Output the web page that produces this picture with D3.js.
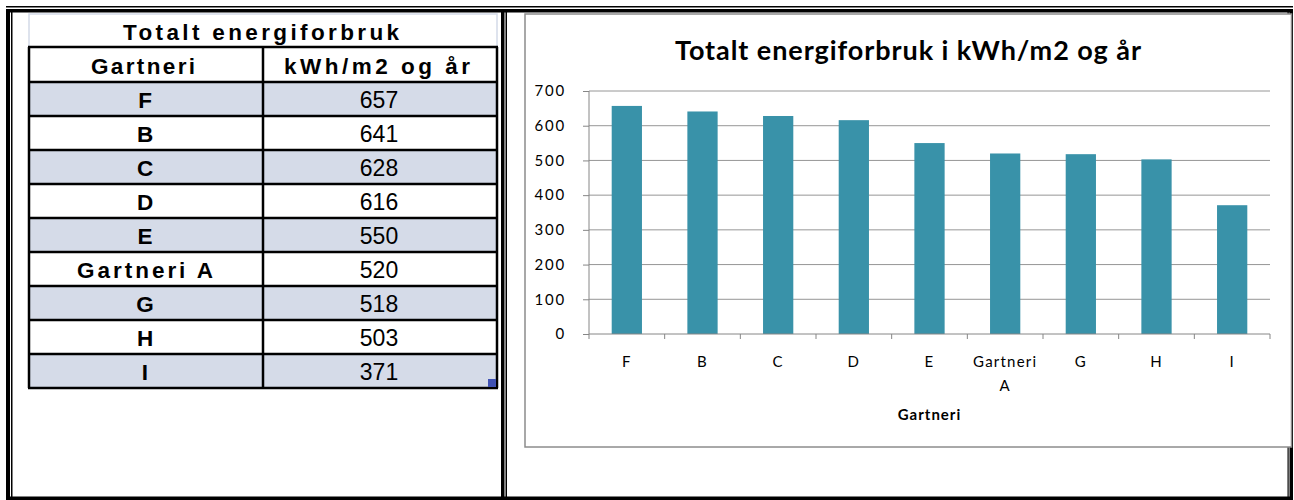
<!DOCTYPE html>
<html>
<head>
<meta charset="utf-8">
<script src="https://cdn.jsdelivr.net/npm/d3@7/dist/d3.min.js"></script>
<style>
  html, body { margin: 0; padding: 0; background: #fff; }
  svg { display: block; }
</style>
</head>
<body>
<svg id="chart" width="1294" height="500"></svg>
<script>
// ---------- data ----------
const tableTitle = "Totalt energiforbruk";
const colHeaders = ["Gartneri", "kWh/m2 og år"];
const categories = ["F", "B", "C", "D", "E", "Gartneri A", "G", "H", "I"];
const values = [657, 641, 628, 616, 550, 520, 518, 503, 371];
const yTicks = [0, 100, 200, 300, 400, 500, 600, 700];
const chartTitle = "Totalt energiforbruk i kWh/m2 og år";
const xAxisTitle = "Gartneri";

const svg = d3.select("#chart");

// ---------- outer double frame ----------
const frame = svg.append("g").attr("fill", "#000");
frame.append("rect").attr("x", 6).attr("y", 6).attr("width", 1287).attr("height", 1.5);
frame.append("rect").attr("x", 6).attr("y", 9).attr("width", 1287).attr("height", 3.5);
frame.append("rect").attr("x", 6).attr("y", 9).attr("width", 4).attr("height", 491);
frame.append("rect").attr("x", 11).attr("y", 12).attr("width", 1.5).attr("height", 488);
frame.append("rect").attr("x", 501).attr("y", 9).attr("width", 3.5).attr("height", 491);
frame.append("rect").attr("x", 505.5).attr("y", 12).attr("width", 1.5).attr("height", 488);
frame.append("rect").attr("x", 1287.5).attr("y", 12).attr("width", 1.2).attr("height", 488);
frame.append("rect").attr("x", 1289.5).attr("y", 9).attr("width", 3.5).attr("height", 491);
frame.append("rect").attr("x", 6).attr("y", 496.5).attr("width", 1287).attr("height", 3.5);

// ---------- table ----------
const tX0 = 29, tX1 = 263, tX2 = 497;
const titleTop = 14, headTop = 47, rowTop = 82, rowH = 34;
const tbl = svg.append("g").attr("font-family", "'Liberation Sans', Arial, sans-serif");

tbl.append("rect").attr("x", tX0).attr("y", titleTop).attr("width", tX2 - tX0).attr("height", headTop - titleTop)
  .attr("fill", "#fff").attr("stroke", "#d3dae8").attr("stroke-width", 1.5);

categories.forEach((c, i) => {
  tbl.append("rect").attr("x", tX0).attr("y", rowTop + i * rowH).attr("width", tX2 - tX0).attr("height", rowH)
    .attr("fill", i % 2 === 0 ? "#d5dbe8" : "#fff");
});

const tableBottom = rowTop + categories.length * rowH;
const hLines = [headTop, rowTop].concat(categories.map((c, i) => rowTop + (i + 1) * rowH));
hLines.forEach(y => {
  tbl.append("line").attr("x1", tX0 - 1).attr("x2", tX2 + 1).attr("y1", y).attr("y2", y)
    .attr("stroke", "#000").attr("stroke-width", 2.5);
});
[tX0, tX1, tX2].forEach(x => {
  tbl.append("line").attr("x1", x).attr("x2", x).attr("y1", headTop).attr("y2", tableBottom)
    .attr("stroke", "#000").attr("stroke-width", 2.5);
});
tbl.append("rect").attr("x", tX2 - 9).attr("y", tableBottom - 9).attr("width", 8).attr("height", 8).attr("fill", "#4052b4");

tbl.append("text").attr("x", 261).attr("y", 40).attr("text-anchor", "middle")
  .attr("font-weight", "bold").attr("font-size", 22.5).attr("textLength", 276).attr("lengthAdjust", "spacing")
  .text(tableTitle);
tbl.append("text").attr("x", 143).attr("y", 74).attr("text-anchor", "middle")
  .attr("font-weight", "bold").attr("font-size", 22.5).attr("textLength", 104).attr("lengthAdjust", "spacing")
  .text(colHeaders[0]);
tbl.append("text").attr("x", 377).attr("y", 74).attr("text-anchor", "middle")
  .attr("font-weight", "bold").attr("font-size", 22.5).attr("textLength", 186).attr("lengthAdjust", "spacing")
  .text(colHeaders[1]);
categories.forEach((c, i) => {
  const t = tbl.append("text").attr("x", (tX0 + tX1) / 2 - 1).attr("y", rowTop + i * rowH + 26)
    .attr("text-anchor", "middle").attr("font-weight", "bold").attr("font-size", 22.5).text(c);
  if (c.indexOf(" ") >= 0) t.attr("textLength", 136).attr("lengthAdjust", "spacing");
  tbl.append("text").attr("x", (tX1 + tX2) / 2 - 1).attr("y", rowTop + i * rowH + 26)
    .attr("text-anchor", "middle").attr("font-size", 23).text(values[i]);
});

// ---------- chart ----------
const chart = svg.append("g").attr("font-family", "Lato, 'Open Sans', sans-serif");
chart.append("rect").attr("x", 525).attr("y", 14).attr("width", 766.5).attr("height", 433)
  .attr("fill", "#fff").attr("stroke", "#8c8c8c").attr("stroke-width", 1.5);

const pl = 589, pr = 1270, pt = 91, pb = 334;
const y = d3.scaleLinear().domain([0, 700]).range([pb, pt]);
const x = d3.scaleBand().domain(categories).range([pl, pr]).paddingInner(0.6).paddingOuter(0.3);

chart.append("g").selectAll("line").data(yTicks.filter(d => d > 0)).join("line")
  .attr("x1", pl).attr("x2", pr).attr("y1", d => y(d)).attr("y2", d => y(d))
  .attr("stroke", "#969696").attr("stroke-width", 1);

chart.append("g").selectAll("rect").data(values).join("rect")
  .attr("x", (d, i) => x(categories[i]))
  .attr("width", x.bandwidth())
  .attr("y", d => y(d))
  .attr("height", d => y(0) - y(d))
  .attr("fill", "#3992a9");

const yAxis = chart.append("g").attr("transform", `translate(${pl},0)`)
  .call(d3.axisLeft(y).tickValues(yTicks).tickSize(6).tickPadding(17).tickFormat(d3.format("d")));
yAxis.select(".domain").attr("stroke", "#868686").attr("d", `M-0,${pt}V${pb}`);
yAxis.selectAll(".tick line").attr("stroke", "#868686");
yAxis.selectAll("text").attr("font-family", "Lato, sans-serif").attr("font-size", 15)
  .attr("letter-spacing", "1.8px").attr("fill", "#000");

const xAxis = chart.append("g").attr("transform", `translate(0,${pb})`)
  .call(d3.axisBottom(x).tickSize(0).tickPadding(0));
xAxis.select(".domain").attr("stroke", "#868686").attr("d", `M${pl},0H${pr}`);
const step = x.step();
const boundaries = d3.range(categories.length + 1).map(i => pl + i * step);
xAxis.append("g").selectAll("line").data(boundaries).join("line")
  .attr("x1", d => d).attr("x2", d => d).attr("y1", 0).attr("y2", 5)
  .attr("stroke", "#868686");
xAxis.selectAll(".tick text").each(function(d) {
  const t = d3.select(this);
  t.attr("y", 33).attr("dy", null).attr("font-family", "Lato, sans-serif")
    .attr("font-size", 15).attr("letter-spacing", "1.2px").attr("fill", "#000").text(null);
  const words = d.split(" ");
  words.forEach((w, k) => {
    t.append("tspan").attr("x", 0).attr("dy", k === 0 ? 0 : 24).text(w);
  });
});

chart.append("text").attr("x", 908).attr("y", 60).attr("text-anchor", "middle")
  .attr("font-weight", "bold").attr("font-size", 27).attr("fill", "#000")
  .attr("textLength", 466).attr("lengthAdjust", "spacing").text(chartTitle);
chart.append("text").attr("x", (pl + pr) / 2).attr("y", 420).attr("text-anchor", "middle")
  .attr("font-weight", "bold").attr("font-size", 15).attr("letter-spacing", "1px").attr("fill", "#000").text(xAxisTitle);
</script>
</body>
</html>
